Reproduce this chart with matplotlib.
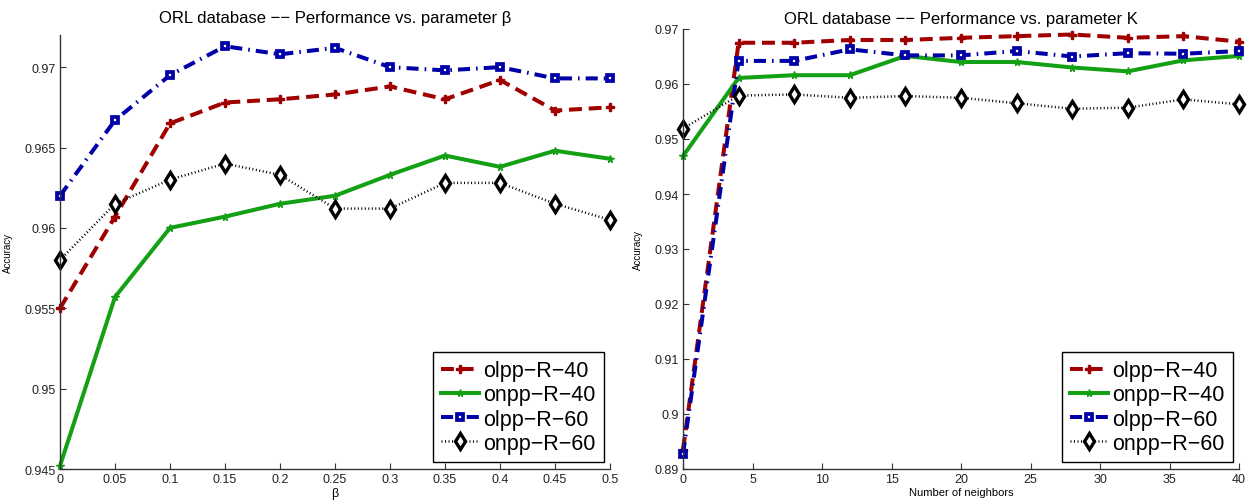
import matplotlib
matplotlib.use("Agg")
import matplotlib.pyplot as plt
from matplotlib.ticker import FuncFormatter

plt.rcParams['font.family'] = ['Liberation Sans', 'DejaVu Sans']

# ---- data: left panel (beta) ----
beta = [0, 0.05, 0.1, 0.15, 0.2, 0.25, 0.3, 0.35, 0.4, 0.45, 0.5]
b_olpp40 = [0.9550, 0.9607, 0.9665, 0.9678, 0.9680, 0.9683, 0.9688, 0.9680, 0.9692, 0.9673, 0.9675]
b_onpp40 = [0.9452, 0.9557, 0.9600, 0.9607, 0.9615, 0.9620, 0.9633, 0.9645, 0.9638, 0.9648, 0.9643]
b_olpp60 = [0.9620, 0.9667, 0.9695, 0.9713, 0.9708, 0.9712, 0.9700, 0.9698, 0.9700, 0.9693, 0.9693]
b_onpp60 = [0.9580, 0.9615, 0.9630, 0.9640, 0.9633, 0.9612, 0.9612, 0.9628, 0.9628, 0.9615, 0.9605]

# ---- data: right panel (K) ----
K = [0, 4, 8, 12, 16, 20, 24, 28, 32, 36, 40]
k_olpp40 = [0.8935, 0.9675, 0.9675, 0.9680, 0.9680, 0.9684, 0.9687, 0.9690, 0.9684, 0.9687, 0.9677]
k_onpp40 = [0.9469, 0.9611, 0.9616, 0.9616, 0.9651, 0.9640, 0.9640, 0.9630, 0.9623, 0.9643, 0.9651]
k_olpp60 = [0.8927, 0.9642, 0.9642, 0.9663, 0.9652, 0.9652, 0.9660, 0.9650, 0.9656, 0.9655, 0.9660]
k_onpp60 = [0.9519, 0.9579, 0.9581, 0.9575, 0.9578, 0.9575, 0.9565, 0.9555, 0.9557, 0.9572, 0.9563]

labels = ['olpp\u2212R\u221240', 'onpp\u2212R\u221240', 'olpp\u2212R\u221260', 'onpp\u2212R\u221260']

RED = '#a00000'
GREEN = '#14a014'
BLUE = '#0000a8'
BLACK = '#000000'

styles = [
    dict(color=RED, ls='--', lw=2.9, marker='P', ms=5.5, mfc=RED, mec=RED, dashes=(3.2, 1.7)),
    dict(color=GREEN, ls='-', lw=2.9, marker='*', ms=5.5, mfc=GREEN, mec=GREEN),
    dict(color=BLUE, ls='-.', lw=2.9, marker='s', ms=4.6, mfc='white', mec=BLUE, mew=2.7,
         dashes=(3.0, 1.5, 0.4, 1.5)),
    dict(color=BLACK, ls=':', lw=1.8, marker='d', ms=8, mfc='white', mec=BLACK, mew=2.4,
         dashes=(0.4, 1.0)),
]

fig = plt.figure(figsize=(12.56, 5.02), dpi=100)
W, H = 1256, 502
axL = fig.add_axes([60 / W, 32 / H, 550 / W, 434 / H])
axR = fig.add_axes([683 / W, 32 / H, 556 / W, 440 / H])

def fmt(v, pos):
    return ('%g' % round(v, 6))

def setup(ax):
    for s in ['top', 'right']:
        ax.spines[s].set_visible(False)
    for s in ['left', 'bottom']:
        ax.spines[s].set_color('#333333')
        ax.spines[s].set_linewidth(1.0)
    ax.tick_params(direction='in', length=4, width=0.8, colors='#333333',
                   labelcolor='#222222', labelsize=9, pad=3)
    ax.xaxis.set_major_formatter(FuncFormatter(fmt))
    ax.yaxis.set_major_formatter(FuncFormatter(fmt))

series_L = [b_olpp40, b_onpp40, b_olpp60, b_onpp60]
series_R = [k_olpp40, k_onpp40, k_olpp60, k_onpp60]

for ax, xs, series, axw, axh in [(axL, beta, series_L, 550, 434), (axR, K, series_R, 556, 440)]:
    for ys, st, lab in zip(series, styles, labels):
        ax.plot(xs, ys, label=lab, clip_on=False, **st)
    setup(ax)
    leg = ax.legend(loc='lower right', bbox_to_anchor=(1 - 6 / axw, 7 / axh),
                    borderaxespad=0, fontsize=15.5, handlelength=1.75,
                    handletextpad=0.2, labelspacing=0.15, borderpad=0.38,
                    fancybox=False, framealpha=1, edgecolor='black')
    leg.get_frame().set_linewidth(1.0)

axL.set_xlim(0, 0.5)
axL.set_ylim(0.945, 0.972)
axL.set_xticks(beta)
axL.set_yticks([0.945, 0.95, 0.955, 0.96, 0.965, 0.97])
axL.set_title('ORL database \u2212\u2212 Performance vs. parameter \u03b2', fontsize=12, pad=9)
axL.set_xlabel('\u03b2', fontsize=9, labelpad=1)
axL.set_ylabel('Accuracy', fontsize=7, labelpad=8)

axR.set_xlim(0, 40)
axR.set_ylim(0.89, 0.97)
axR.set_xticks([0, 5, 10, 15, 20, 25, 30, 35, 40])
axR.set_yticks([0.89, 0.9, 0.91, 0.92, 0.93, 0.94, 0.95, 0.96, 0.97])
axR.set_title('ORL database \u2212\u2212 Performance vs. parameter K', fontsize=12, pad=4)
axR.set_xlabel('Number of neighbors', fontsize=8, labelpad=1)
axR.set_ylabel('Accuracy', fontsize=7, labelpad=8)

fig.savefig('out.png', dpi=100)
